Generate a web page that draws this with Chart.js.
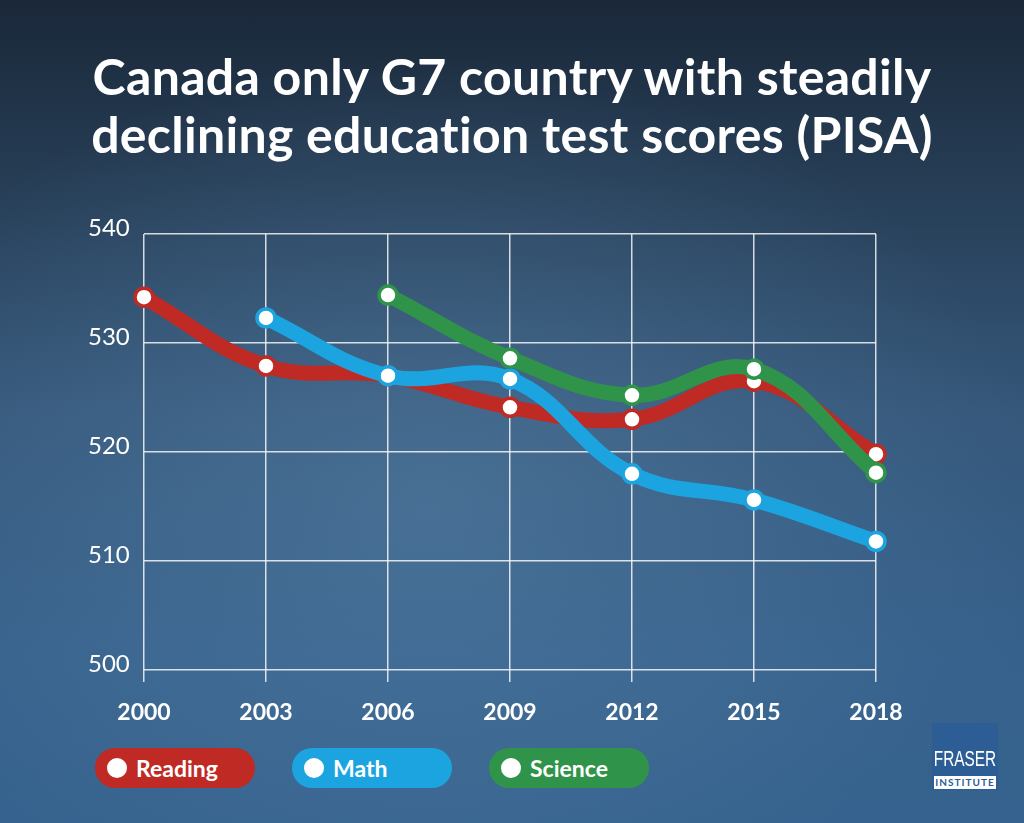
<!DOCTYPE html>
<html>
<head>
<meta charset="utf-8">
<script src="https://cdn.jsdelivr.net/npm/chart.js@4"></script>
<style>
  html, body { margin: 0; padding: 0; }
  body {
    width: 1024px; height: 823px; overflow: hidden; position: relative;
    font-family: Lato, "Open Sans", sans-serif; color: #fff;
    background:
      radial-gradient(ellipse 60% 55% at 42% 62%, rgba(86,128,165,0.55), rgba(86,128,165,0) 100%),
      linear-gradient(180deg, #1a2839 0%, #263d55 22%, #35577a 50%, #36618c 80%, #35628e 100%);
  }
  h1 {
    position: absolute; left: 0; top: 47px; width: 1024px; margin: 0;
    text-align: center; font-size: 50px; line-height: 58px; font-weight: bold;
    letter-spacing: 0.3px;
  }
  #wrap { position: absolute; left: 0; top: 200px; width: 1024px; height: 540px; }
  .legend { position: absolute; top: 748px; left: 95px; display: flex; gap: 37px; }
  .pill {
    width: 160px; height: 40px; border-radius: 20px; display: flex; align-items: center;
    font-size: 23px; font-weight: bold;
  }
  .pill .dot { width: 20px; height: 20px; border-radius: 50%; background: #fff; margin: 0 9px 0 12px; }
  .logo {
    position: absolute; left: 932px; top: 723px; width: 66px; height: 67px; background: #2c5e95;
  }
  .logo .name {
    position: absolute; top: 24px; left: -20px; width: 106px; text-align: center;
    font-family: "Liberation Sans", sans-serif; font-size: 22px; line-height: 24px;
    transform: scaleX(0.7); transform-origin: center;
  }
  .logo .inst {
    position: absolute; left: 2px; top: 53px; width: 62px; height: 13px; background: #fff; color: #2c5e95;
    font-size: 10px; font-weight: bold; text-align: center; line-height: 13px; letter-spacing: 1px;
  }
</style>
</head>
<body>
<h1>Canada only G7 country with steadily<br>declining education test scores (PISA)</h1>
<div id="wrap"><canvas id="pisaChart"></canvas></div>
<div class="legend">
  <div class="pill" style="background:#bf2a25"><span class="dot"></span>Reading</div>
  <div class="pill" style="background:#1ba4e0"><span class="dot"></span>Math</div>
  <div class="pill" style="background:#2f9449"><span class="dot"></span>Science</div>
</div>
<div class="logo"><div class="name">FRASER</div><div class="inst">INSTITUTE</div></div>
<script>
const years = ['2000', '2003', '2006', '2009', '2012', '2015', '2018'];
const reading = [534.2, 527.9, 527, 524.1, 523, 526.5, 519.8];
const math = [null, 532.3, 527, 526.7, 518, 515.6, 511.8];
const science = [null, null, 534.4, 528.6, 525.2, 527.6, 518.1];
const yTicks = [500, 510, 520, 530, 540];

function series(label, data, color, order) {
  return {
    label: label,
    data: data,
    borderColor: color,
    borderWidth: 15,
    tension: 0.4,
    pointRadius: 9,
    pointHoverRadius: 9,
    pointBorderWidth: 3.5,
    pointBackgroundColor: '#fff',
    pointBorderColor: color,
    order: order
  };
}

const ctx = document.getElementById('pisaChart').getContext('2d');
new Chart(ctx, {
  type: 'line',
  data: {
    labels: years,
    datasets: [
      series('Reading', reading, '#bf2a25', 3),
      series('Math', math, '#1ba4e0', 2),
      series('Science', science, '#2f9449', 1)
    ]
  },
  options: {
    responsive: true,
    maintainAspectRatio: false,
    animation: false,
    layout: { padding: { left: 88, top: 34, right: 148, bottom: 0 } },
    plugins: { legend: { display: false }, tooltip: { enabled: false } },
    scales: {
      x: {
        offset: false,
        grid: { color: 'rgba(255,255,255,0.8)', lineWidth: 1.5, tickLength: 12 },
        border: { display: false },
        ticks: { color: '#fff', padding: 17, maxRotation: 0, font: { family: 'Lato', size: 23, weight: 'bold' } },
        afterFit: (scale) => { scale.height = 70; }
      },
      y: {
        min: 500,
        max: 540,
        afterBuildTicks: (scale) => { scale.ticks = yTicks.map(v => ({ value: v })); },
        grid: { color: 'rgba(255,255,255,0.8)', lineWidth: 1.5, drawTicks: false },
        border: { display: false },
        ticks: { color: '#fff', crossAlign: 'far', labelOffset: -6, font: { family: 'Lato', size: 24 } },
        afterFit: (scale) => { scale.width = 56; }
      }
    }
  }
});
</script>
</body>
</html>
